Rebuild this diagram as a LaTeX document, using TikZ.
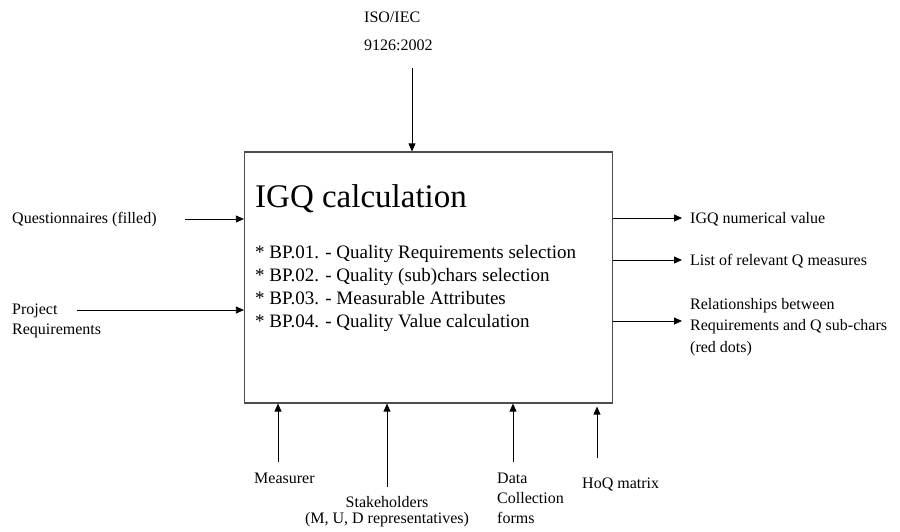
\documentclass[tikz,border=0pt]{standalone}
\usepackage{fontspec}
\setmainfont{Liberation Serif}
\usetikzlibrary{arrows.meta,positioning}

\begin{document}
\begin{tikzpicture}[x=1pt,y=-1pt,
    lbl/.style={font=\fontsize{16}{20}\selectfont, inner sep=0pt, align=left},
    flow/.style={line width=0.8pt, -{Triangle[length=8pt,width=7pt]}}
]
\useasboundingbox (0,0) rectangle (900,531);

% Process box
\node[draw=black!70, line width=1.2pt, minimum width=368pt, minimum height=251pt, inner sep=0pt] (igq) at (428.5,277.5) {};
\node[anchor=base west, inner sep=0pt, font=\fontsize{33}{33}\selectfont] (title) at (255,207) {IGQ calculation};
\node[anchor=base west, inner sep=0pt, align=left, font=\fontsize{19}{23}\selectfont] (steps) at (255,327)
    {* BP.01. - Quality Requirements selection\\
     * BP.02. - Quality (sub)chars selection\\
     * BP.03. - Measurable Attributes\\
     * BP.04. - Quality Value calculation};

% Control (top)
\node[lbl, anchor=base west, font=\fontsize{16}{28}\selectfont] (iso) at (364,50) {ISO/IEC\\9126:2002};
\coordinate (isoS) at (412,68);
\draw[flow] (isoS) -- (isoS |- igq.north);

% Inputs (left)
\node[lbl, anchor=base west] (quest) at (12,223) {Questionnaires (filled)};
\node[lbl, anchor=base west] (projreq) at (12,334) {Project\\Requirements};
\coordinate (questS) at (185,219);
\coordinate (projS) at (77,310);
\draw[flow] (questS) -- (questS -| igq.west);
\draw[flow] (projS) -- (projS -| igq.west);

% Outputs (right)
\node[lbl, anchor=base west] (value) at (690,223) {IGQ numerical value};
\node[lbl, anchor=base west] (measures) at (690,265) {List of relevant Q measures};
\node[lbl, anchor=base west, font=\fontsize{16}{21.5}\selectfont] (relations) at (690,352)
    {Relationships between\\Requirements and Q sub-chars\\(red dots)};
\coordinate (valueE) at (682,218);
\coordinate (measE) at (682,260);
\coordinate (relE) at (682,321);
\draw[flow] (valueE -| igq.east) -- (valueE);
\draw[flow] (measE -| igq.east) -- (measE);
\draw[flow] (relE -| igq.east) -- (relE);

% Mechanisms (bottom)
\node[lbl, anchor=base west] (measurer) at (254,483) {Measurer};
\node[lbl, anchor=base, align=center, font=\fontsize{16}{16}\selectfont] (stake) at (387,523)
    {Stakeholders\\(M, U, D representatives)};
\node[lbl, anchor=base west] (forms) at (497,523) {Data\\Collection\\forms};
\node[lbl, anchor=base west] (hoq) at (582,488) {HoQ matrix};
\coordinate (measS) at (278,462);
\coordinate (stakeS) at (387,487);
\coordinate (formsS) at (513,462);
\coordinate (hoqS) at (597,458);
\draw[flow] (measS) -- (measS |- igq.south);
\draw[flow] (stakeS) -- (stakeS |- igq.south);
\draw[flow] (formsS) -- (formsS |- igq.south);
\draw[flow] (hoqS) -- ([yshift=-3pt]hoqS |- igq.south);

\end{tikzpicture}
\end{document}
